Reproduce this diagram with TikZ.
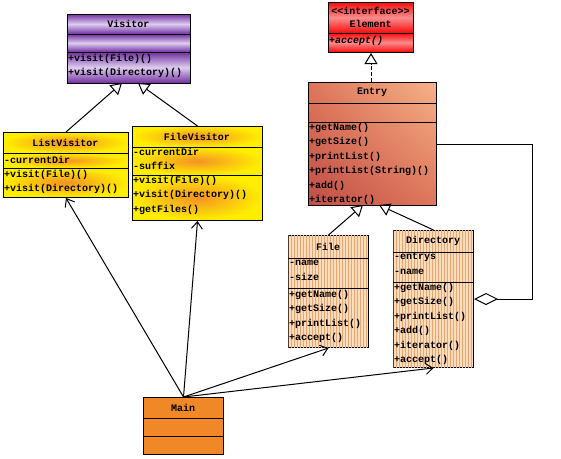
\documentclass[tikz,border=0pt]{standalone}
\usepackage{fontspec}
\setmonofont{Liberation Mono}
\usetikzlibrary{arrows.meta,shadings,patterns.meta}

\definecolor{visdark}{RGB}{112,48,160}
\definecolor{vislight}{RGB}{222,205,240}
\definecolor{elred}{RGB}{250,10,10}
\definecolor{ellight}{RGB}{250,140,140}
\definecolor{entdark}{RGB}{192,78,72}
\definecolor{entmid}{RGB}{222,118,90}
\definecolor{entlight}{RGB}{246,178,136}
\definecolor{yel}{RGB}{255,238,0}
\definecolor{yelorange}{RGB}{244,146,36}
\definecolor{stripebg}{RGB}{252,222,190}
\definecolor{stripefg}{RGB}{234,166,110}
\definecolor{mainorange}{RGB}{240,136,40}

\newcommand{\memfont}{\ttfamily\bfseries\fontsize{10}{14.5}\selectfont}

\tikzset{
  cls/.style={draw=black,line width=1pt,inner sep=0pt,anchor=north west},
  ttl/.style={font=\memfont,inner sep=0pt,align=center},
  mem/.style={font=\memfont,inner sep=0pt,anchor=north west,align=left,
    execute at begin node={\rule{0pt}{8pt}}},
  purp/.style={top color=visdark,bottom color=visdark,middle color=vislight},
  redsh/.style={top color=elred,bottom color=elred,middle color=ellight},
  yelsh/.style={outer color=yel,inner color=yelorange},
  stripes/.style={fill=stripebg,postaction={pattern={Lines[angle=90,distance=3pt,line width=1pt]},pattern color=stripefg}},
  inh/.style={line width=1pt,-{Triangle[open,length=11pt,width=13pt]}},
  dep/.style={line width=1pt,-{Straight Barb[length=7pt,width=11pt]}},
}

\begin{document}
\begin{tikzpicture}[x=1pt,y=-1pt]
\useasboundingbox (0,0) rectangle (561,458);

% Visitor
\foreach \ya/\yb in {14/34,34/52,52/83}
  \shade[purp] (67,\ya) rectangle (190,\yb);
\node[cls,minimum width=123pt,minimum height=69pt] (visitor) at (67,14) {};
\draw[line width=0.8pt] (67,34) -- (190,34) (67,52) -- (190,52);
\node[ttl] (visitor-t) at (128.5,24) {Visitor};
\node[mem] (visitor-o) at (68,54) {+visit(File)()\\+visit(Directory)()};

% Element
\foreach \ya/\yb in {2/33,33/52}
  \shade[redsh] (328,\ya) rectangle (413,\yb);
\node[cls,minimum width=85pt,minimum height=50pt] (element) at (328,2) {};
\draw[line width=0.8pt] (328,33) -- (413,33);
\node[ttl,font=\ttfamily\bfseries\fontsize{10}{13}\selectfont] (element-t) at (370.5,17.5) {<<interface>>\\Element};
\node[mem,font=\ttfamily\bfseries\itshape\fontsize{10}{14.5}\selectfont] (element-o) at (329,35) {+accept()};

% Entry
\shade[upper left=entmid,upper right=entlight,lower left=entdark,lower right=entmid] (308,82) rectangle (436,205);
\node[cls,minimum width=128pt,minimum height=123pt] (entry) at (308,82) {};
\draw[line width=0.8pt] (308,103) -- (436,103) (308,122) -- (436,122);
\node[ttl] (entry-t) at (372,92.5) {Entry};
\node[mem] (entry-o) at (309,123) {+getName()\\+getSize()\\+printList()\\+printList(String)()\\+add()\\+iterator()};

% ListVisitor
\foreach \ya/\yb in {132/153,153/168,168/197}
  \shade[yelsh] (3,\ya) rectangle (128,\yb);
\node[cls,minimum width=125pt,minimum height=65pt] (lv) at (3,132) {};
\draw[line width=0.8pt] (3,153) -- (128,153) (3,168) -- (128,168);
\node[ttl] (lv-t) at (65.5,142.5) {ListVisitor};
\node[mem] (lv-a) at (4,155) {-currentDir};
\node[mem] (lv-o) at (4,170) {+visit(File)()\\+visit(Directory)()};

% FileVisitor
\foreach \ya/\yb in {126/147,147/175,175/220}
  \shade[yelsh] (132,\ya) rectangle (262,\yb);
\node[cls,minimum width=130pt,minimum height=94pt] (fv) at (132,126) {};
\draw[line width=0.8pt] (132,147) -- (262,147) (132,175) -- (262,175);
\node[ttl] (fv-t) at (197,136.5) {FileVisitor};
\node[mem] (fv-a) at (133,148) {-currentDir\\-suffix};
\node[mem] (fv-o) at (133,176) {+visit(File)()\\+visit(Directory)()\\+getFiles()};

% File
\node[cls,stripes,minimum width=80pt,minimum height=112pt] (file) at (288,235) {};
\draw[line width=0.8pt] (288,258) -- (368,258) (288,288) -- (368,288);
\node[ttl] (file-t) at (328,246.5) {File};
\node[mem] (file-a) at (289,260) {-name\\-size};
\node[mem] (file-o) at (289,290) {+getName()\\+getSize()\\+printList()\\+accept()};

% Directory
\node[cls,stripes,minimum width=80pt,minimum height=137pt] (dir) at (393,230) {};
\draw[line width=0.8pt] (393,252) -- (473,252) (393,282) -- (473,282);
\node[ttl] (dir-t) at (433,241) {Directory};
\node[mem] (dir-a) at (394,253) {-entrys\\-name};
\node[mem] (dir-o) at (394,283) {+getName()\\+getSize()\\+printList()\\+add()\\+iterator()\\+accept()};

% Main
\node[cls,fill=mainorange,minimum width=80pt,minimum height=57pt] (main) at (143,397) {};
\draw[line width=0.8pt] (143,418) -- (223,418) (143,436) -- (223,436);
\node[ttl] (main-t) at (183,407.5) {Main};

% inheritance
\coordinate (visitor-in1) at (122,83);
\coordinate (visitor-in2) at (138,83);
\coordinate (entry-in1) at (363,205);
\coordinate (entry-in2) at (379,205);
\draw[inh] (lv.north) -- (visitor-in1);
\draw[inh] (fv.north) -- (visitor-in2);
\draw[inh] (file.north) -- (entry-in1);
\draw[inh] (dir.north) -- (entry-in2);
\draw[inh,dashed,dash pattern=on 4pt off 2pt] (element.south |- entry.north) -- (element.south);

% aggregation
\coordinate (agg1) at (532,144);
\coordinate (agg2) at (532,299);
\draw[line width=1pt,{Diamond[open,length=24pt,width=12pt]}-] (dir.east |- agg2) -- (agg2) -- (agg1) -- (entry.east |- agg1);

% Main uses
\draw[dep] (main.north) -- (lv.south);
\draw[dep] (main.north) -- (fv.south);
\draw[dep] (main.north) -- (file.south);
\draw[dep] (main.north) -- (dir.south);
\end{tikzpicture}
\end{document}
